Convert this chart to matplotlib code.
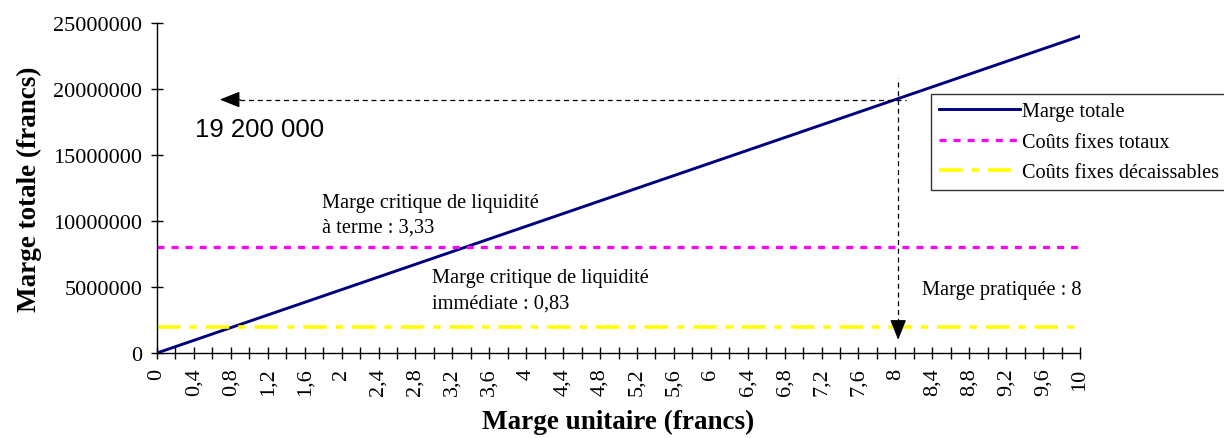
import matplotlib
matplotlib.use("Agg")
import matplotlib.pyplot as plt

# marge unitaire (francs), pas de 0,2
marge_unitaire = [0, 0.2, 0.4, 0.6, 0.8, 1.0, 1.2, 1.4, 1.6, 1.8,
                  2.0, 2.2, 2.4, 2.6, 2.8, 3.0, 3.2, 3.4, 3.6, 3.8,
                  4.0, 4.2, 4.4, 4.6, 4.8, 5.0, 5.2, 5.4, 5.6, 5.8,
                  6.0, 6.2, 6.4, 6.6, 6.8, 7.0, 7.2, 7.4, 7.6, 7.8,
                  8.0, 8.2, 8.4, 8.6, 8.8, 9.0, 9.2, 9.4, 9.6, 9.8, 10.0]
marge_totale = [0, 480000, 960000, 1440000, 1920000, 2400000, 2880000, 3360000,
                3840000, 4320000, 4800000, 5280000, 5760000, 6240000, 6720000,
                7200000, 7680000, 8160000, 8640000, 9120000, 9600000, 10080000,
                10560000, 11040000, 11520000, 12000000, 12480000, 12960000,
                13440000, 13920000, 14400000, 14880000, 15360000, 15840000,
                16320000, 16800000, 17280000, 17760000, 18240000, 18720000,
                19200000, 19680000, 20160000, 20640000, 21120000, 21600000,
                22080000, 22560000, 23040000, 23520000, 24000000]
couts_fixes_totaux = [8000000] * len(marge_unitaire)
couts_fixes_decaissables = [2000000] * len(marge_unitaire)

marge_pratiquee = 8
marge_obtenue = 19200000

plt.rcParams['font.family'] = ['Liberation Serif', 'DejaVu Serif']

fig = plt.figure(figsize=(12.24, 4.39), dpi=100)
ax = fig.add_axes([157/1224, 1 - 354/439, (1080-157)/1224, (354-24)/439])

ax.plot(marge_unitaire, marge_totale, color='#000080', lw=2.1, label='Marge totale')
ax.plot(marge_unitaire, couts_fixes_totaux, color='#ff00ff', lw=2.3,
        dashes=(2.2, 2.2), label='Coûts fixes totaux')
ax.plot(marge_unitaire, couts_fixes_decaissables, color='#ffff00', lw=2.6,
        dashes=(6.5, 2.5, 2, 2.5), label='Coûts fixes décaissables')

# flèches de lecture : traits pointillés + pointe pleine
head = dict(arrowstyle='-|>,head_length=1.25,head_width=0.5', color='black',
            lw=0.9, shrinkA=0, shrinkB=0)
ax.plot([0.8, 8.12], [marge_obtenue, marge_obtenue], color='black', lw=0.9,
        dashes=(4, 3))
ax.annotate('', xy=(0.68, marge_obtenue), xytext=(0.9, marge_obtenue),
            arrowprops=head, annotation_clip=False)
ax.plot([8.03, 8.03], [1600000, 20800000], color='black', lw=0.9, dashes=(4, 3))
ax.annotate('', xy=(8.03, 1000000), xytext=(8.03, 1700000),
            arrowprops=head, annotation_clip=False)

ax.text(0.41, 16440000, '19 200 000', family='Liberation Sans', fontsize=18.5,
        va='baseline', ha='left')
ax.text(1.79, 9170000, 'Marge critique de liquidité\nà terme : 3,33',
        fontsize=14.7, va='baseline', ha='left', linespacing=1.4)
ax.text(2.98, 3480000, 'Marge critique de liquidité\nimmédiate : 0,83',
        fontsize=14.7, va='baseline', ha='left', linespacing=1.4)
ax.text(8.29, 4470000, 'Marge pratiquée : ' + str(marge_pratiquee),
        fontsize=14.7, va='baseline', ha='left')

ax.set_xlim(0, 10)
ax.set_ylim(0, 25000000)
ax.set_xticks(marge_unitaire)
labels = []
for i, v in enumerate(marge_unitaire):
    if i % 2 == 0:
        labels.append(('%g' % v).replace('.', ','))
    else:
        labels.append('')
ax.set_xticklabels(labels, rotation=90, fontsize=16)
ax.set_yticks([0, 5000000, 10000000, 15000000, 20000000, 25000000])
ax.set_yticklabels(['0', '5000000', '10000000', '15000000', '20000000', '25000000'],
                   fontsize=16)
ax.tick_params(direction='inout', length=9, width=1, pad=6)

for s in ['top', 'right']:
    ax.spines[s].set_visible(False)
for s in ['left', 'bottom']:
    ax.spines[s].set_linewidth(1)

ax.set_xlabel('Marge unitaire (francs)', fontsize=19.5, fontweight='bold', labelpad=10)
ax.set_ylabel('Marge totale (francs)', fontsize=19.5, fontweight='bold', labelpad=8)

leg = fig.legend(loc='upper left', bbox_to_anchor=(931/1224, 1 - 95/439),
                 fontsize=14.6, frameon=True, fancybox=False, handlelength=4.0,
                 handletextpad=0.1, labelspacing=0.55, borderpad=0.4,
                 borderaxespad=0)
leg.get_frame().set_edgecolor('black')
leg.get_frame().set_linewidth(1)

fig.savefig('out.png', dpi=100)
